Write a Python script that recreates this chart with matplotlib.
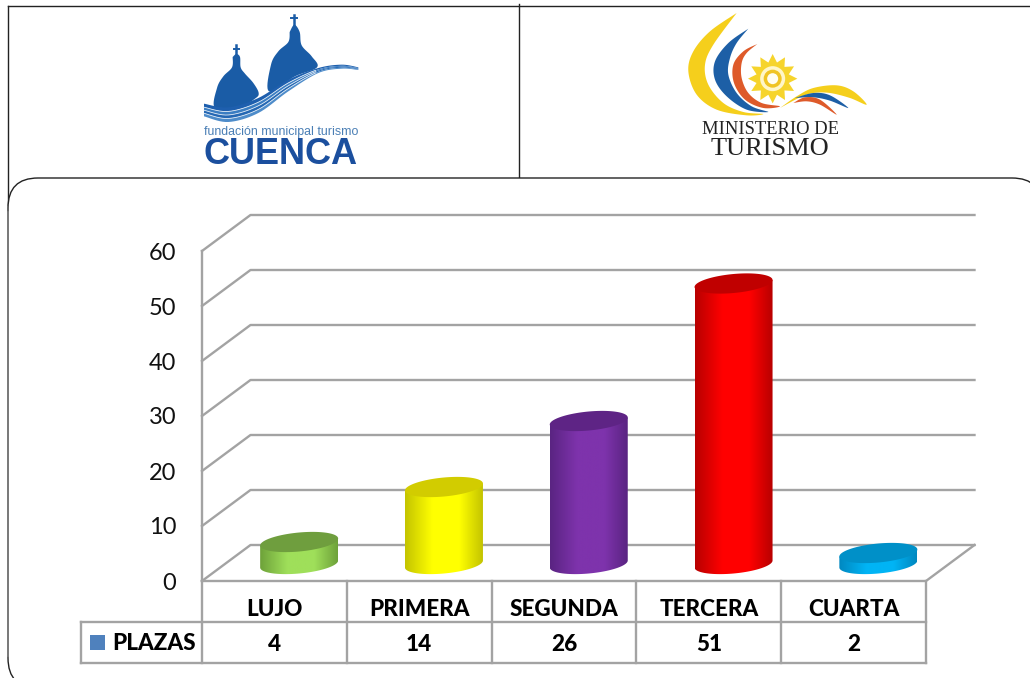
import numpy as np
import matplotlib
matplotlib.use("Agg")
import matplotlib.pyplot as plt
from matplotlib.patches import Polygon, FancyBboxPatch, Rectangle, Circle
from matplotlib.colors import LinearSegmentedColormap

categories = ["LUJO", "PRIMERA", "SEGUNDA", "TERCERA", "CUARTA"]
plazas = [4, 14, 26, 51, 2]
y_ticks = [0, 10, 20, 30, 40, 50, 60]
series_name = "PLAZAS"
side_edge = ["#6EA23A", "#C4C400", "#5A2482", "#B80000", "#0088C0"]
side_mid = ["#9FDF5A", "#FFFF00", "#7E33AC", "#FF0000", "#00B4F5"]
top_col = ["#6F9E3E", "#D2CC00", "#5E2485", "#C00000", "#0090C8"]

W, H = 1030, 678
GRID = "#A3A3A3"
FONT = "Lato"
fig = plt.figure(figsize=(W / 100, H / 100), dpi=100, facecolor="white")

# Pixel-space layer for frame, logos and table rules
bg = fig.add_axes([0, 0, 1, 1], zorder=0)
bg.set_xlim(0, W); bg.set_ylim(H, 0); bg.axis("off")

# Frame
bg.plot([8, W], [6, 6], color="#222222", lw=1)
bg.plot([8, 8], [6, 205], color="#222222", lw=1)
bg.plot([519, 519], [4, 178], color="#222222", lw=1)
bg.add_patch(FancyBboxPatch((38, 208), 974, 450,
                            boxstyle="round,pad=30,rounding_size=30",
                            fc="white", ec="#222222", lw=1, zorder=2, clip_on=True))
bg.plot([8, 8], [212, 656], color="#808080", lw=1.2, zorder=2)


def smooth(pts, n=10):
    """Open Catmull-Rom through outline points."""
    p = np.array(pts, float)
    q = np.vstack([p[0], p, p[-1]])
    out = []
    u = np.linspace(0, 1, n, endpoint=False)[:, None]
    for i in range(1, len(q) - 2):
        a, b, c, d = q[i - 1], q[i], q[i + 1], q[i + 2]
        out.append(.5 * (2 * b + (c - a) * u + (2 * a - 5 * b + 4 * c - d) * u ** 2
                         + (3 * b - a - 3 * c + d) * u ** 3))
    out.append(p[-1:])
    return np.vstack(out)


def to_px(arr, ox, oy):
    return np.asarray(arr, float) / 3 + [ox, oy]


def blob(pts, ox, oy, color, z=3, raw=False):
    xy = to_px(pts if raw else smooth(pts), ox, oy)
    bg.add_patch(Polygon(xy, closed=True, fc=color, lw=0, zorder=z))


# Cuenca logo (outlines noted in 3x crop units)
OX, OY = 195, 8
DOME = "#1A5CA6"
blob([(113, 147), (111, 178), (85, 205), (66, 240), (60, 300), (130, 300), (180, 272), (191, 255),
      (175, 225), (150, 197), (137, 178), (135, 147), (124, 138), (113, 147)], OX, OY, DOME)
blob([(284, 72), (280, 102), (250, 130), (228, 170), (222, 250), (300, 205), (366, 178), (350, 145),
      (320, 112), (314, 72), (298, 50), (284, 72)], OX, OY, DOME)
for cx_, top_, bot_, arm_ in [(124, 112, 142, 122), (297, 20, 52, 30)]:
    a_ = to_px([(cx_, top_), (cx_, bot_)], OX, OY)
    bg.plot(a_[:, 0], a_[:, 1], color=DOME, lw=1.8, zorder=3)
    a_ = to_px([(cx_ - 8, arm_), (cx_ + 8, arm_)], OX, OY)
    bg.plot(a_[:, 0], a_[:, 1], color=DOME, lw=1.4, zorder=3)
T = smooth([(27, 287), (100, 298), (190, 270), (280, 215), (370, 180), (440, 170), (490, 178)])
B = smooth([(27, 325), (100, 342), (190, 315), (280, 250), (370, 195), (440, 182), (490, 186)])
fr = [0, .28, .52, .76, 1]
band_cols = ["#1E5FAE", "#3A7DC2", "#2568B4", "#4E8CCA"]
for k, c in enumerate(band_cols):
    up = T + (B - T) * fr[k]
    lo = T + (B - T) * fr[k + 1]
    bg.add_patch(Polygon(to_px(np.vstack([up, lo[::-1]]), OX, OY), fc=c, lw=0, zorder=4))
    if k:
        m = to_px(up[:40], OX, OY)
        bg.plot(m[:, 0], m[:, 1], color="#DCE8F4", lw=.6, zorder=5)
bg.text(281, 132, "fundación municipal turismo", ha="center", va="center", fontsize=8.9,
        family="Liberation Sans", color="#4A7FB5", zorder=5)
bg.text(281, 155, "CUENCA", ha="center", va="center", fontsize=26,
        family="Liberation Sans", weight="bold", color="#1B4F9E", zorder=5)

# Ministerio logo
OX, OY = 680, 8
YEL = "#F5CF1C"
BLU = "#1D5FA6"
ORG = "#DE5A2A"
blob([(170, 15), (90, 70), (40, 130), (25, 190), (50, 260), (110, 305), (200, 322), (250, 318),
      (190, 312), (130, 285), (85, 230), (75, 170), (100, 110), (170, 15)], OX, OY, YEL)
blob([(205, 62), (145, 105), (105, 160), (105, 215), (140, 265), (200, 305), (265, 312),
      (215, 295), (170, 255), (145, 200), (150, 150), (170, 105), (205, 62)], OX, OY, BLU)
blob([(232, 108), (190, 130), (160, 170), (162, 225), (195, 275), (250, 300), (300, 295),
      (245, 285), (205, 255), (185, 210), (185, 165), (200, 135), (232, 108)], OX, OY, ORG)
ang = np.linspace(0, 2 * np.pi, 24, endpoint=False)
rad = np.where(np.arange(24) % 2 == 0, 74, 50)
sun = np.c_[278 + rad * np.sin(ang), 212 - rad * np.cos(ang)]
blob(sun, OX, OY, "#F6D42C", raw=True)
sc = to_px([(278, 212)], OX, OY)[0]
for r_, c in [(12.5, "#FFF6C8"), (9, "#F0C424"), (5.5, "#FFFDF0")]:
    bg.add_patch(Circle(sc, r_, fc=c, lw=0, zorder=4))
blob([(300, 300), (350, 265), (400, 240), (470, 232), (520, 250), (560, 290), (510, 270), (450, 255),
      (400, 255), (360, 268), (300, 300)], OX, OY, YEL)
blob([(345, 270), (400, 255), (450, 262), (505, 300), (450, 278), (400, 268), (345, 270)], OX, OY, BLU, z=4)
blob([(340, 285), (375, 268), (420, 275), (470, 320), (420, 290), (380, 280), (340, 285)], OX, OY, ORG, z=4)
bg.text(770, 129, "MINISTERIO DE", ha="center", va="center", fontsize=13.4,
        family="Liberation Serif", color="#222222", zorder=5)
bg.text(770, 149, "TURISMO", ha="center", va="center", fontsize=19,
        family="Liberation Serif", color="#222222", zorder=5)

# Table rules
LW = 1.7
cols = np.linspace(202, 926, len(categories) + 1)
for xc in cols:
    bg.plot([xc, xc], [581, 663], color=GRID, lw=LW, zorder=3)
bg.plot([81, 926], [622, 622], color=GRID, lw=LW, zorder=3)
bg.plot([81, 926], [663, 663], color=GRID, lw=LW, zorder=3)
bg.plot([81, 81], [622, 663], color=GRID, lw=LW, zorder=3)
bg.add_patch(Rectangle((90, 635), 15, 15, fc="#4F81BD", lw=0, zorder=3))
bg.text(112, 644, series_name, ha="left", va="center", fontsize=16.2, family=FONT,
        weight="black", color="black", zorder=4)

# Chart axes: the front plane of the 3D box
ax = fig.add_axes([202 / W, (H - 581) / H, 724 / W, 330 / H], zorder=1)
ax.patch.set_alpha(0)
ax.set_xlim(-0.5, 4.5); ax.set_ylim(0, 60)
for s in ax.spines.values():
    s.set_visible(False)
PX = 5 / 724; PY = 60 / 330           # data units per pixel
DX, DY = 48.5 * PX, 36 * PY           # wall depth
x0, x1 = -0.5, 4.5
for v in y_ticks:
    ax.plot([x0, x0 + DX, x1 + DX], [v, v + DY, v + DY], color=GRID, lw=LW,
            clip_on=False, solid_joinstyle="round", zorder=1)
ax.plot([x0, x0], [0, 60], color=GRID, lw=LW, clip_on=False, zorder=1)
ax.plot([x0, x1, x1 + DX], [0, 0, DY], color=GRID, lw=LW, clip_on=False, zorder=1)

ax.set_yticks(y_ticks)
ax.set_yticklabels([str(v) for v in y_ticks], fontsize=17, family=FONT, color="#111111",
                   va="center_baseline")
ax.tick_params(axis="y", length=0, pad=18.5)
ax.set_xticks(range(len(categories)))
ax.set_xticklabels(categories, fontsize=16.2, family=FONT, weight="black")
ax.tick_params(axis="x", length=0, pad=13)

for i, v in enumerate(plazas):
    ax.text(i, -63.5 * PY, str(v), ha="center", va="center", fontsize=16.2, family=FONT,
            weight="black", clip_on=False)

# Cylinders
a, b, tilt = 39 * PX, 9.5 * PY, 3.5 * PY
t = np.linspace(0, 2 * np.pi, 121)
for i, v in enumerate(plazas):
    cx = i + DX / 2 + 0.5 * PX
    y0 = DY / 2 - 1 * PY
    y1 = y0 + v
    ex, ey = a * np.cos(t), b * np.sin(t) + tilt * np.cos(t)
    half = t[:61]
    xs = np.r_[cx - a, cx + a, cx + a * np.cos(half)]
    ys = np.r_[y1 - tilt, y1 + tilt, y0 - b * np.sin(half) + tilt * np.cos(half)]
    side = Polygon(np.c_[xs, ys], transform=ax.transData, fc="none", lw=0)
    ax.add_patch(side)
    cmap = LinearSegmentedColormap.from_list(
        "c", [(0, side_edge[i]), (.35, side_mid[i]), (.7, side_mid[i]), (1, side_edge[i])])
    g = np.linspace(0, 1, 200)[None, :]
    im = ax.imshow(g, extent=[cx - a, cx + a, y0 - b - tilt, y1 + tilt], cmap=cmap,
                   aspect="auto", origin="lower", zorder=3)
    im.set_clip_path(side)
    ax.add_patch(Polygon(np.c_[cx + ex, y1 + ey], fc=top_col[i], lw=0, zorder=4, clip_on=False))
ax.set_xlim(-0.5, 4.5); ax.set_ylim(0, 60)

fig.savefig("out.png", dpi=100)
